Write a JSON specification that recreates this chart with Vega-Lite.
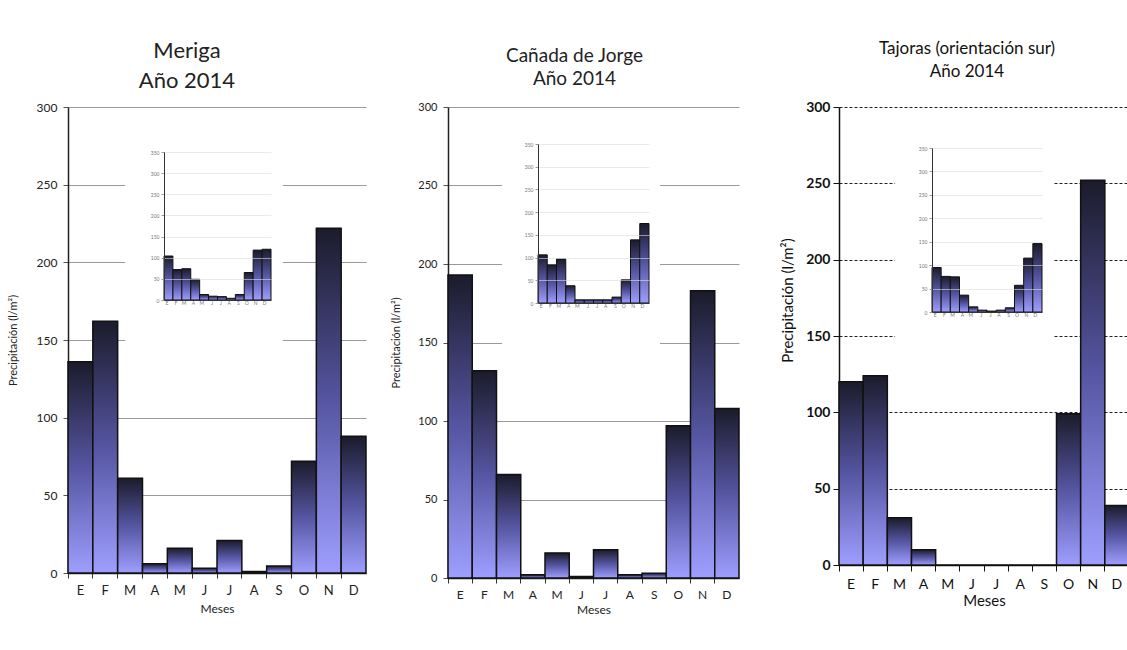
{
  "$schema": "https://vega.github.io/schema/vega-lite/v6.json",
  "background": "white",
  "padding": {"left": 7, "top": 40, "right": 0, "bottom": 0},
  "config": {
    "font": "Lato",
    "view": {"stroke": null},
    "axis": {"labelFont": "Lato", "titleFont": "Lato", "titleFontWeight": "normal", "labelColor": "#222", "titleColor": "#222"}
  },
  "datasets": {
    "main": [
      {"site": "Meriga", "m": 1, "p": 136}, {"site": "Meriga", "m": 2, "p": 162}, {"site": "Meriga", "m": 3, "p": 61}, {"site": "Meriga", "m": 4, "p": 6},
      {"site": "Meriga", "m": 5, "p": 16}, {"site": "Meriga", "m": 6, "p": 3}, {"site": "Meriga", "m": 7, "p": 21}, {"site": "Meriga", "m": 8, "p": 1},
      {"site": "Meriga", "m": 9, "p": 4.5}, {"site": "Meriga", "m": 10, "p": 72}, {"site": "Meriga", "m": 11, "p": 222}, {"site": "Meriga", "m": 12, "p": 88},
      {"site": "Cañada", "m": 1, "p": 193}, {"site": "Cañada", "m": 2, "p": 132}, {"site": "Cañada", "m": 3, "p": 66}, {"site": "Cañada", "m": 4, "p": 2},
      {"site": "Cañada", "m": 5, "p": 16}, {"site": "Cañada", "m": 6, "p": 1}, {"site": "Cañada", "m": 7, "p": 18}, {"site": "Cañada", "m": 8, "p": 2},
      {"site": "Cañada", "m": 9, "p": 3}, {"site": "Cañada", "m": 10, "p": 97}, {"site": "Cañada", "m": 11, "p": 183}, {"site": "Cañada", "m": 12, "p": 108},
      {"site": "Tajoras", "m": 1, "p": 120}, {"site": "Tajoras", "m": 2, "p": 124}, {"site": "Tajoras", "m": 3, "p": 31}, {"site": "Tajoras", "m": 4, "p": 10},
      {"site": "Tajoras", "m": 5, "p": 0}, {"site": "Tajoras", "m": 6, "p": 0}, {"site": "Tajoras", "m": 7, "p": 0}, {"site": "Tajoras", "m": 8, "p": 0},
      {"site": "Tajoras", "m": 9, "p": 0}, {"site": "Tajoras", "m": 10, "p": 99}, {"site": "Tajoras", "m": 11, "p": 252}, {"site": "Tajoras", "m": 12, "p": 39}
    ],
    "inset": [
      {"site": "Meriga", "m": 1, "p": 104}, {"site": "Meriga", "m": 2, "p": 72}, {"site": "Meriga", "m": 3, "p": 74}, {"site": "Meriga", "m": 4, "p": 49},
      {"site": "Meriga", "m": 5, "p": 13}, {"site": "Meriga", "m": 6, "p": 9}, {"site": "Meriga", "m": 7, "p": 8}, {"site": "Meriga", "m": 8, "p": 4},
      {"site": "Meriga", "m": 9, "p": 13}, {"site": "Meriga", "m": 10, "p": 65}, {"site": "Meriga", "m": 11, "p": 118}, {"site": "Meriga", "m": 12, "p": 120},
      {"site": "Cañada", "m": 1, "p": 106}, {"site": "Cañada", "m": 2, "p": 84}, {"site": "Cañada", "m": 3, "p": 97}, {"site": "Cañada", "m": 4, "p": 38},
      {"site": "Cañada", "m": 5, "p": 7}, {"site": "Cañada", "m": 6, "p": 7}, {"site": "Cañada", "m": 7, "p": 7}, {"site": "Cañada", "m": 8, "p": 7},
      {"site": "Cañada", "m": 9, "p": 13}, {"site": "Cañada", "m": 10, "p": 51}, {"site": "Cañada", "m": 11, "p": 139}, {"site": "Cañada", "m": 12, "p": 175},
      {"site": "Tajoras", "m": 1, "p": 95}, {"site": "Tajoras", "m": 2, "p": 76}, {"site": "Tajoras", "m": 3, "p": 75}, {"site": "Tajoras", "m": 4, "p": 36},
      {"site": "Tajoras", "m": 5, "p": 11}, {"site": "Tajoras", "m": 6, "p": 4}, {"site": "Tajoras", "m": 7, "p": 2}, {"site": "Tajoras", "m": 8, "p": 4},
      {"site": "Tajoras", "m": 9, "p": 9}, {"site": "Tajoras", "m": 10, "p": 57}, {"site": "Tajoras", "m": 11, "p": 115}, {"site": "Tajoras", "m": 12, "p": 146}
    ]
  },
  "spacing": 40,
  "hconcat": [
    {
      "bounds": "flush",
      "spacing": 82,
      "hconcat": [
        {
          "width": 298, "height": 466,
          "title": {"text": ["Meriga", "Año 2014"], "fontSize": 22, "fontWeight": "normal", "lineHeight": 30, "offset": 8, "dx": -30, "color": "#222"},
          "layer": [
            {
              "data": {"name": "main"},
              "transform": [{"filter": "datum.site == 'Meriga'"}],
              "mark": {"type": "bar", "stroke": "#111", "strokeWidth": 1.5, "color": {"gradient": "linear", "x1": 0, "y1": 0, "x2": 0, "y2": 1, "stops": [{"offset": 0, "color": "#1b1b2b"}, {"offset": 0.5, "color": "#5555a2"}, {"offset": 1, "color": "#9e9eff"}]}},
              "encoding": {
                "x": {"field": "m", "type": "ordinal", "scale": {"paddingInner": 0, "paddingOuter": 0},
                      "axis": {"title": "Meses", "titleFontSize": 12, "titlePadding": 6, "labelExpr": "['E','F','M','A','M','J','J','A','S','O','N','D'][datum.value-1]", "labelAngle": 0, "labelFontSize": 13, "labelPadding": 6, "bandPosition": 0, "tickSize": 5, "tickColor": "#333", "domainColor": "#222", "domainWidth": 1.5}},
                "y": {"field": "p", "type": "quantitative", "scale": {"domain": [0, 300]},
                      "axis": {"title": "Precipitación (l/m²)", "titleFontSize": 11, "titlePadding": 18, "values": [0, 50, 100, 150, 200, 250, 300], "labelFontSize": 12, "labelPadding": 6, "tickSize": 5, "tickColor": "#555", "domainColor": "#222", "domainWidth": 1.5, "grid": true, "gridColor": "#9a9a9a", "gridWidth": 1.2}}
              }
            },
            {
              "layer": [
                {
                  "data": {"values": [{}]},
                  "mark": {"type": "rect", "color": "white"},
                  "encoding": {
                    "x": {"datum": 1, "type": "ordinal", "bandPosition": -4.37},
                    "x2": {"datum": 12, "bandPosition": 2.34},
                    "y": {"datum": 414, "type": "quantitative"},
                    "y2": {"datum": -118}
                  }
                },
                {
                  "data": {"name": "inset"},
                  "transform": [{"filter": "datum.site == 'Meriga'"}],
                  "mark": {"type": "bar", "stroke": "#111", "strokeWidth": 1, "color": {"gradient": "linear", "x1": 0, "y1": 0, "x2": 0, "y2": 1, "stops": [{"offset": 0, "color": "#1b1b2b"}, {"offset": 0.5, "color": "#5555a2"}, {"offset": 1, "color": "#9e9eff"}]}},
                  "encoding": {
                    "x": {"field": "m", "type": "ordinal", "scale": {"paddingInner": 0, "paddingOuter": 0, "range": [96, 203]},
                          "axis": {"orient": "bottom", "offset": -273, "zindex": 1, "title": null, "labelExpr": "['E','F','M','A','M','J','J','A','S','O','N','D'][datum.value-1]", "labelAngle": 0, "labelFontSize": 5, "labelColor": "#777", "labelPadding": 2, "ticks": false, "domainColor": "#333"}},
                    "y": {"field": "p", "type": "quantitative", "scale": {"domain": [0, 350], "range": [193, 45]},
                          "axis": {"orient": "left", "offset": -96, "zindex": 1, "title": null, "values": [0, 50, 100, 150, 200, 250, 300, 350], "labelFontSize": 5, "labelColor": "#777", "labelPadding": 2, "tickSize": 3, "tickColor": "#999", "domainColor": "#333", "grid": true, "gridColor": "#dcdcdc", "gridOpacity": 0.6}}
                  }
                }
              ]
            }
          ],
          "resolve": {"scale": {"x": "independent", "y": "independent"}, "axis": {"x": "independent", "y": "independent"}}
        },
        {
          "width": 291, "height": 471,
          "title": {"text": ["Cañada de Jorge", "Año 2014"], "fontSize": 19, "fontWeight": "normal", "lineHeight": 23, "offset": 12, "dx": -19, "color": "#222"},
          "layer": [
            {
              "data": {"name": "main"},
              "transform": [{"filter": "datum.site == 'Cañada'"}],
              "mark": {"type": "bar", "stroke": "#111", "strokeWidth": 1.5, "color": {"gradient": "linear", "x1": 0, "y1": 0, "x2": 0, "y2": 1, "stops": [{"offset": 0, "color": "#1b1b2b"}, {"offset": 0.5, "color": "#5555a2"}, {"offset": 1, "color": "#9e9eff"}]}},
              "encoding": {
                "x": {"field": "m", "type": "ordinal", "scale": {"paddingInner": 0, "paddingOuter": 0},
                      "axis": {"title": "Meses", "titleFontSize": 12, "titlePadding": 4, "labelExpr": "['E','F','M','A','M','J','J','A','S','O','N','D'][datum.value-1]", "labelAngle": 0, "labelFontSize": 12, "labelPadding": 6, "bandPosition": 0, "tickSize": 5, "tickColor": "#333", "domainColor": "#222", "domainWidth": 1.5}},
                "y": {"field": "p", "type": "quantitative", "scale": {"domain": [0, 300]},
                      "axis": {"title": "Precipitación (l/m²)", "titleFontSize": 11, "titlePadding": 16, "values": [0, 50, 100, 150, 200, 250, 300], "labelFontSize": 11, "labelPadding": 6, "tickSize": 5, "tickColor": "#555", "domainColor": "#222", "domainWidth": 1.5, "grid": true, "gridColor": "#9a9a9a", "gridWidth": 1.2}}
              }
            },
            {
              "layer": [
                {
                  "data": {"values": [{}]},
                  "mark": {"type": "rect", "color": "white"},
                  "encoding": {
                    "x": {"datum": 1, "type": "ordinal", "bandPosition": -3.89},
                    "x2": {"datum": 12, "bandPosition": 2.19},
                    "y": {"datum": 427, "type": "quantitative"},
                    "y2": {"datum": -112}
                  }
                },
                {
                  "data": {"name": "inset"},
                  "transform": [{"filter": "datum.site == 'Cañada'"}],
                  "mark": {"type": "bar", "stroke": "#111", "strokeWidth": 1, "color": {"gradient": "linear", "x1": 0, "y1": 0, "x2": 0, "y2": 1, "stops": [{"offset": 0, "color": "#1b1b2b"}, {"offset": 0.5, "color": "#5555a2"}, {"offset": 1, "color": "#9e9eff"}]}},
                  "encoding": {
                    "x": {"field": "m", "type": "ordinal", "scale": {"paddingInner": 0, "paddingOuter": 0, "range": [90, 201]},
                          "axis": {"orient": "bottom", "offset": -275, "zindex": 1, "title": null, "labelExpr": "['E','F','M','A','M','J','J','A','S','O','N','D'][datum.value-1]", "labelAngle": 0, "labelFontSize": 5, "labelColor": "#777", "labelPadding": 2, "ticks": false, "domainColor": "#333"}},
                    "y": {"field": "p", "type": "quantitative", "scale": {"domain": [0, 350], "range": [196, 37]},
                          "axis": {"orient": "left", "offset": -90, "zindex": 1, "title": null, "values": [0, 50, 100, 150, 200, 250, 300, 350], "labelFontSize": 5, "labelColor": "#777", "labelPadding": 2, "tickSize": 3, "tickColor": "#999", "domainColor": "#333", "grid": true, "gridColor": "#dcdcdc", "gridOpacity": 0.6}}
                  }
                }
              ]
            }
          ],
          "resolve": {"scale": {"x": "independent", "y": "independent"}, "axis": {"x": "independent", "y": "independent"}}
        }
      ]
    },
    {
      "width": 290, "height": 458,
      "title": {"text": ["Tajoras (orientación sur)", "Año 2014"], "fontSize": 17, "fontWeight": "normal", "lineHeight": 23, "offset": 19, "dx": -17, "color": "#111"},
      "layer": [
        {
          "data": {"name": "main"},
          "transform": [{"filter": "datum.site == 'Tajoras'"}],
          "mark": {"type": "bar", "stroke": "#111", "strokeWidth": 1.5, "color": {"gradient": "linear", "x1": 0, "y1": 0, "x2": 0, "y2": 1, "stops": [{"offset": 0, "color": "#1b1b2b"}, {"offset": 0.5, "color": "#5555a2"}, {"offset": 1, "color": "#9e9eff"}]}},
          "encoding": {
            "x": {"field": "m", "type": "ordinal", "scale": {"paddingInner": 0, "paddingOuter": 0},
                  "axis": {"title": "Meses", "titleFontSize": 15, "titlePadding": 2, "titleColor": "#111", "labelExpr": "['E','F','M','A','M','J','J','A','S','O','N','D'][datum.value-1]", "labelAngle": 0, "labelFontSize": 14, "labelColor": "#111", "labelPadding": 6, "bandPosition": 0, "tickSize": 6, "tickColor": "#111", "domainColor": "#111", "domainWidth": 1.5}},
            "y": {"field": "p", "type": "quantitative", "scale": {"domain": [0, 300]},
                  "axis": {"title": "Precipitación (l/m²)", "titleFontSize": 15, "titleColor": "#111", "titlePadding": 10, "titleY": 193, "values": [0, 50, 100, 150, 200, 250, 300], "labelFontSize": 14, "labelFontWeight": "bold", "labelColor": "#111", "labelPadding": 3, "tickSize": 6, "tickColor": "#111", "domainColor": "#111", "domainWidth": 1.5, "grid": true, "gridColor": "#222", "gridDash": [3, 2], "gridWidth": 1}}
          }
        },
        {
          "layer": [
            {
              "data": {"values": [{}]},
              "mark": {"type": "rect", "color": "white"},
              "encoding": {
                "x": {"datum": 1, "type": "ordinal", "bandPosition": -4.03},
                "x2": {"datum": 12, "bandPosition": 2.31},
                "y": {"datum": 395, "type": "quantitative"},
                "y2": {"datum": -70}
              }
            },
            {
              "data": {"name": "inset"},
              "transform": [{"filter": "datum.site == 'Tajoras'"}],
              "mark": {"type": "bar", "stroke": "#111", "strokeWidth": 1, "color": {"gradient": "linear", "x1": 0, "y1": 0, "x2": 0, "y2": 1, "stops": [{"offset": 0, "color": "#1b1b2b"}, {"offset": 0.5, "color": "#5555a2"}, {"offset": 1, "color": "#9e9eff"}]}},
              "encoding": {
                "x": {"field": "m", "type": "ordinal", "scale": {"paddingInner": 0, "paddingOuter": 0, "range": [93, 203]},
                      "axis": {"orient": "bottom", "offset": -253, "zindex": 1, "title": null, "labelExpr": "['E','F','M','A','M','J','J','A','S','O','N','D'][datum.value-1]", "labelAngle": 0, "labelFontSize": 5, "labelColor": "#777", "labelPadding": 2, "ticks": false, "domainColor": "#333"}},
                "y": {"field": "p", "type": "quantitative", "scale": {"domain": [0, 350], "range": [205, 41]},
                      "axis": {"orient": "left", "offset": -93, "zindex": 1, "title": null, "values": [0, 50, 100, 150, 200, 250, 300, 350], "labelFontSize": 5, "labelColor": "#777", "labelPadding": 2, "tickSize": 3, "tickColor": "#999", "domainColor": "#333", "grid": true, "gridColor": "#dcdcdc", "gridOpacity": 0.6}}
              }
            }
          ]
        }
      ],
      "resolve": {"scale": {"x": "independent", "y": "independent"}, "axis": {"x": "independent", "y": "independent"}}
    }
  ]
}
